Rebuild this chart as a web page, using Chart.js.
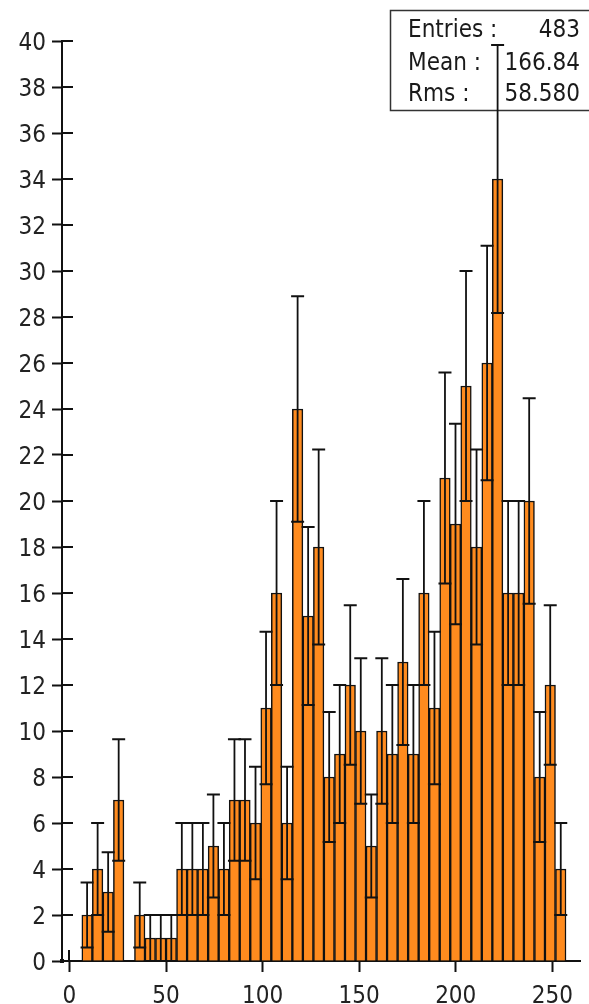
<!DOCTYPE html>
<html>
<head>
<meta charset="utf-8">
<script src="https://cdn.jsdelivr.net/npm/chart.js@4.4.1/dist/chart.umd.min.js"></script>
<style>
  html, body { margin: 0; padding: 0; background: #ffffff; }
  canvas { display: block; }
</style>
</head>
<body>
<canvas id="histo" width="589" height="1004"></canvas>
<script>
// Histogram contents: 46 equal-width bins
const binLow = 6.4;
const binWidth = 5.45;
const counts = [2, 4, 3, 7, 0, 2, 1, 1, 1, 4,
                4, 4, 5, 4, 7, 7, 6, 11, 16, 6,
                24, 15, 18, 8, 9, 12, 10, 5, 10, 9,
                13, 9, 16, 11, 21, 19, 25, 18, 26, 34,
                16, 16, 20, 8, 12, 4];

// Axis ticks
const xTickValues = [0, 50, 100, 150, 200, 250];
const yTickValues = [0, 2, 4, 6, 8, 10, 12, 14, 16, 18, 20, 22, 24, 26, 28, 30, 32, 34, 36, 38, 40];

// Statistics box
const statLabels = ['Entries :', 'Mean :', 'Rms :'];
const statValues = ['483', '166.84', '58.580'];

const FONT_FAMILY = '"DejaVu Sans Condensed", "DejaVu Sans", sans-serif';
const BAR_FILL = 'rgb(255, 139, 30)';
const INK = '#111111';

// Bin centres and Poisson (sqrt N) error bars
const binCenters = counts.map((_, i) => binLow + binWidth * (i + 0.5));
const barData = counts.map((n, i) => ({ x: binCenters[i], y: n }));

const errLines = [];
const errCaps = [];
counts.forEach((n, i) => {
  if (n <= 0) return;
  const e = Math.sqrt(n);
  const c = binCenters[i];
  errLines.push({ x: c, y: n - e }, { x: c, y: n + e }, { x: c, y: null });
  errCaps.push({ x: c, y: n - e }, { x: c, y: n + e });
});

// Ticks that cross the axis line, origin marker and statistics box
const decorations = {
  id: 'decorations',
  beforeDatasetsDraw(chart) {
    const { ctx, chartArea, scales } = chart;
    const inner = 11;
    ctx.save();
    ctx.strokeStyle = INK;
    ctx.lineWidth = 2;
    ctx.beginPath();
    yTickValues.forEach(v => {
      const y = Math.round(scales.y.getPixelForValue(v));
      ctx.moveTo(chartArea.left, y);
      ctx.lineTo(chartArea.left + inner, y);
    });
    xTickValues.forEach(v => {
      const x = Math.round(scales.x.getPixelForValue(v));
      ctx.moveTo(x, chartArea.bottom);
      ctx.lineTo(x, chartArea.bottom - inner);
    });
    ctx.stroke();

    // origin marker
    ctx.fillStyle = INK;
    ctx.fillRect(chartArea.left - 2, chartArea.bottom - 2, 4, 4);

    // statistics box
    const bx = 390, by = 10, bw = 230, bh = 100;
    ctx.fillStyle = '#ffffff';
    ctx.fillRect(bx, by, bw, bh);
    ctx.strokeStyle = '#333333';
    ctx.lineWidth = 1.5;
    ctx.strokeRect(bx + 0.5, by + 0.5, bw, bh);

    ctx.fillStyle = '#1a1a1a';
    ctx.font = '24px ' + FONT_FAMILY;
    ctx.textBaseline = 'alphabetic';
    const baselines = [37, 70, 101];
    statLabels.forEach((t, i) => {
      ctx.textAlign = 'left';
      ctx.fillText(t, 408, baselines[i]);
      ctx.textAlign = 'right';
      ctx.fillText(statValues[i], 580, baselines[i]);
    });
    ctx.restore();
  }
};

new Chart(document.getElementById('histo'), {
  type: 'bar',
  data: {
    datasets: [
      {
        type: 'scatter',
        data: errCaps,
        order: 0,
        showLine: false,
        pointStyle: 'line',
        pointRadius: 6.5,
        pointBorderWidth: 2,
        pointBorderColor: INK,
        pointBackgroundColor: INK
      },
      {
        type: 'line',
        data: errLines,
        order: 1,
        borderColor: INK,
        borderWidth: 1.8,
        pointRadius: 0,
        tension: 0,
        spanGaps: false,
        fill: false
      },
      {
        type: 'bar',
        data: barData,
        order: 2,
        backgroundColor: BAR_FILL,
        borderColor: INK,
        borderWidth: 1.5,
        barPercentage: 1,
        categoryPercentage: 1,
        grouped: false
      }
    ]
  },
  options: {
    responsive: false,
    animation: false,
    events: [],
    layout: { padding: { top: 41, left: 0, right: 0, bottom: 0 } },
    plugins: {
      legend: { display: false },
      tooltip: { enabled: false }
    },
    scales: {
      x: {
        type: 'linear',
        min: -3.87,
        max: 264.6,
        offset: false,
        afterFit(scale) { scale.height = 43; },
        afterBuildTicks(scale) { scale.ticks = xTickValues.map(v => ({ value: v })); },
        grid: {
          offset: false,
          drawOnChartArea: false,
          drawTicks: true,
          tickLength: 11,
          tickWidth: 2,
          tickColor: INK
        },
        border: { display: true, color: INK, width: 2 },
        ticks: {
          includeBounds: false,
          autoSkip: false,
          maxRotation: 0,
          padding: 10,
          color: '#222222',
          font: { family: FONT_FAMILY, size: 24 }
        }
      },
      y: {
        type: 'linear',
        min: 0,
        max: 40,
        afterFit(scale) { scale.width = 62; },
        afterBuildTicks(scale) { scale.ticks = yTickValues.map(v => ({ value: v })); },
        grid: {
          drawOnChartArea: false,
          drawTicks: true,
          tickLength: 10,
          tickWidth: 2,
          tickColor: INK
        },
        border: { display: true, color: INK, width: 2 },
        ticks: {
          autoSkip: false,
          padding: 6,
          labelOffset: 2.5,
          color: '#222222',
          font: { family: FONT_FAMILY, size: 24 }
        }
      }
    }
  },
  plugins: [decorations]
});
</script>
</body>
</html>
